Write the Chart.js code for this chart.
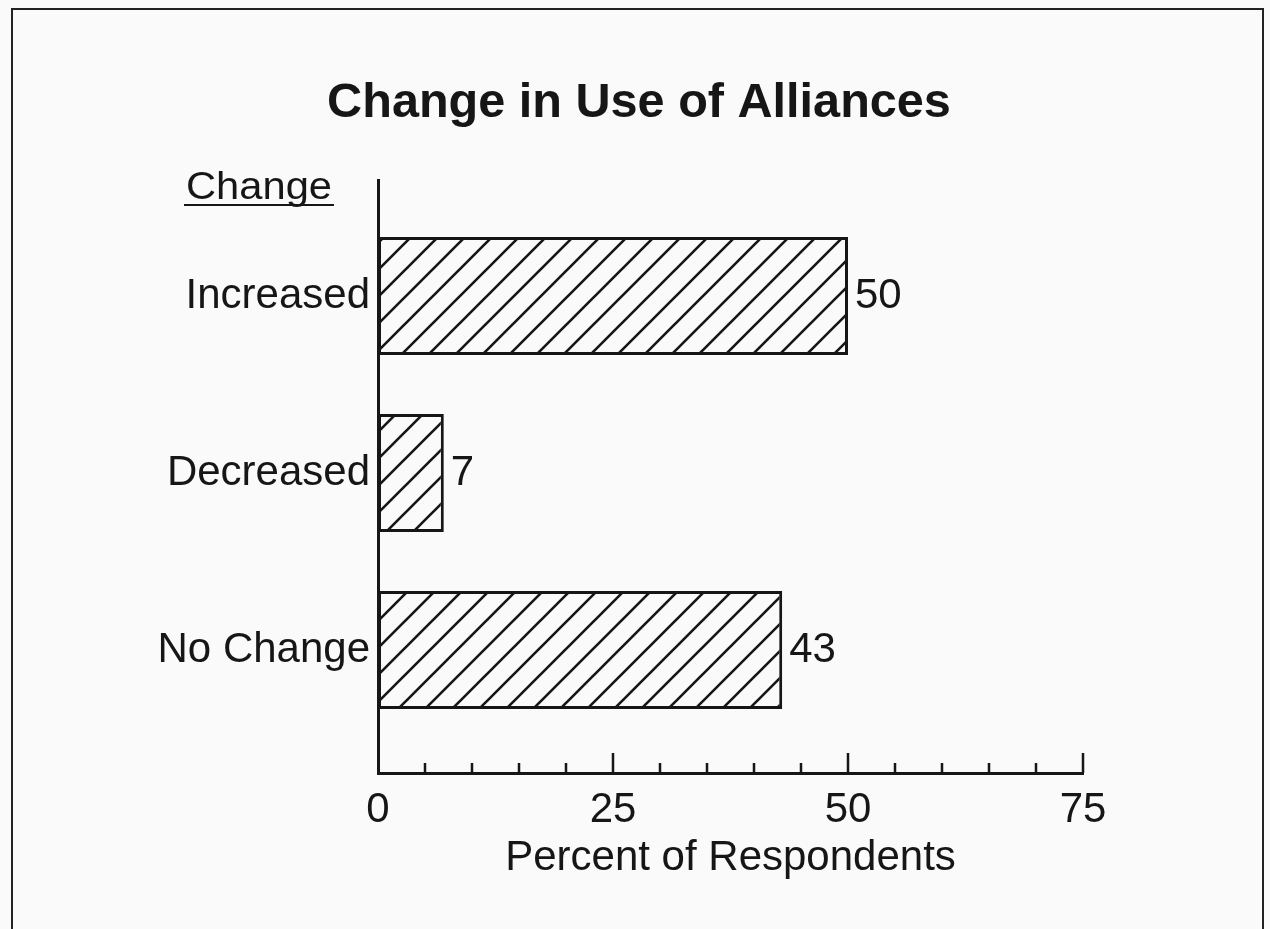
<!DOCTYPE html>
<html>
<head>
<meta charset="utf-8">
<script src="https://cdn.jsdelivr.net/npm/chart.js@4"></script>
<style>
    body { margin: 0; background: #fafafa; }
    #wrap { position: relative; width: 1270px; height: 929px; }
    #frame {
        position: absolute; left: 11px; top: 8px; width: 1249px; height: 930px;
        border: 2px solid #222; border-bottom: none; pointer-events: none;
    }
</style>
</head>
<body>
<div id="wrap">
    <canvas id="chart" width="1270" height="929"></canvas>
    <div id="frame"></div>
</div>
<script>
const categories = ['Increased', 'Decreased', 'No Change'];
const percents = [50, 7, 43];
const xTicks = [0, 25, 50, 75];
const minorStep = 5;
const chartTitle = 'Change in Use of Alliances';
const axisHeader = 'Change';

const FONT = '"Liberation Sans", Arial, Helvetica, sans-serif';
const INK = '#161616';

// diagonal hatch like the original
function makeHatch() {
    const size = 27;
    const c = document.createElement('canvas');
    c.width = size;
    c.height = size;
    const g = c.getContext('2d');
    g.fillStyle = '#fafafa';
    g.fillRect(0, 0, size, size);
    g.strokeStyle = INK;
    g.lineWidth = 2.6;
    g.beginPath();
    g.moveTo(-2, size + 2);
    g.lineTo(size + 2, -2);
    g.moveTo(-2, 2);
    g.lineTo(2, -2);
    g.moveTo(size - 2, size + 2);
    g.lineTo(size + 2, size - 2);
    g.stroke();
    return g.createPattern(c, 'repeat');
}

// title, upward tick marks, value labels, the underlined "Change" heading
const extras = {
    id: 'extras',
    afterDatasetsDraw(chart) {
        const ctx = chart.ctx;
        const x = chart.scales.x;
        const area = chart.chartArea;
        ctx.save();
        ctx.fillStyle = INK;
        ctx.strokeStyle = INK;

        ctx.font = 'bold 48.6px ' + FONT;
        ctx.textAlign = 'center';
        ctx.textBaseline = 'alphabetic';
        ctx.fillText(chartTitle, 639, 117);

        ctx.lineWidth = 2.5;
        ctx.beginPath();
        for (let v = minorStep; v <= xTicks[xTicks.length - 1]; v += minorStep) {
            const px = x.getPixelForValue(v);
            const len = xTicks.includes(v) ? 20 : 10;
            ctx.moveTo(px, area.bottom);
            ctx.lineTo(px, area.bottom - len);
        }
        ctx.stroke();

        ctx.font = '42px ' + FONT;
        ctx.textAlign = 'left';
        ctx.textBaseline = 'middle';
        chart.getDatasetMeta(0).data.forEach((bar, i) => {
            ctx.fillText(String(percents[i]), bar.x + 7, bar.y);
        });

        // heading is a little wide and short in the original
        ctx.font = '38px ' + FONT;
        ctx.textBaseline = 'alphabetic';
        const w = ctx.measureText(axisHeader).width;
        ctx.save();
        ctx.translate(186, 199);
        ctx.scale(146 / w, 1);
        ctx.fillText(axisHeader, 0, 0);
        ctx.restore();
        ctx.lineWidth = 2.2;
        ctx.beginPath();
        ctx.moveTo(184, 205);
        ctx.lineTo(334, 205);
        ctx.stroke();
        ctx.restore();
    }
};

const ctx = document.getElementById('chart').getContext('2d');
new Chart(ctx, {
    type: 'bar',
    data: {
        datasets: [{
            data: percents.map((v, i) => ({ x: v, y: i })),
            backgroundColor: makeHatch(),
            borderColor: INK,
            borderWidth: 3,
            borderSkipped: false,
            barPercentage: 0.667,
            categoryPercentage: 1
        }]
    },
    options: {
        indexAxis: 'y',
        responsive: false,
        animation: false,
        layout: { padding: { left: 0, right: 187, top: 180, bottom: 0 } },
        plugins: {
            legend: { display: false },
            tooltip: { enabled: false },
            title: { display: false }
        },
        scales: {
            x: {
                type: 'linear',
                min: 0,
                max: 75,
                afterBuildTicks: (s) => { s.ticks = xTicks.map(v => ({ value: v })); },
                afterFit: (s) => { s.height = 156; },
                grid: { display: false, drawTicks: false },
                border: { display: true, color: INK, width: 3 },
                ticks: { color: INK, padding: 12, font: { family: FONT, size: 42 } },
                title: {
                    display: true,
                    text: 'Percent of Respondents',
                    color: INK,
                    font: { family: FONT, size: 42, lineHeight: 1.2 },
                    padding: { top: 0, bottom: 45 }
                }
            },
            y: {
                type: 'linear',
                reverse: true,
                offset: false,
                min: -0.655,
                max: 2.695,
                afterBuildTicks: (s) => { s.ticks = categories.map((c, i) => ({ value: i })); },
                afterFit: (s) => { s.width = 378; },
                grid: { display: false, drawTicks: false, offset: false },
                border: { display: true, color: INK, width: 3 },
                ticks: {
                    color: INK,
                    padding: 8,
                    font: { family: FONT, size: 42 },
                    callback: (v) => categories[v]
                }
            }
        }
    },
    plugins: [extras]
});
</script>
</body>
</html>
